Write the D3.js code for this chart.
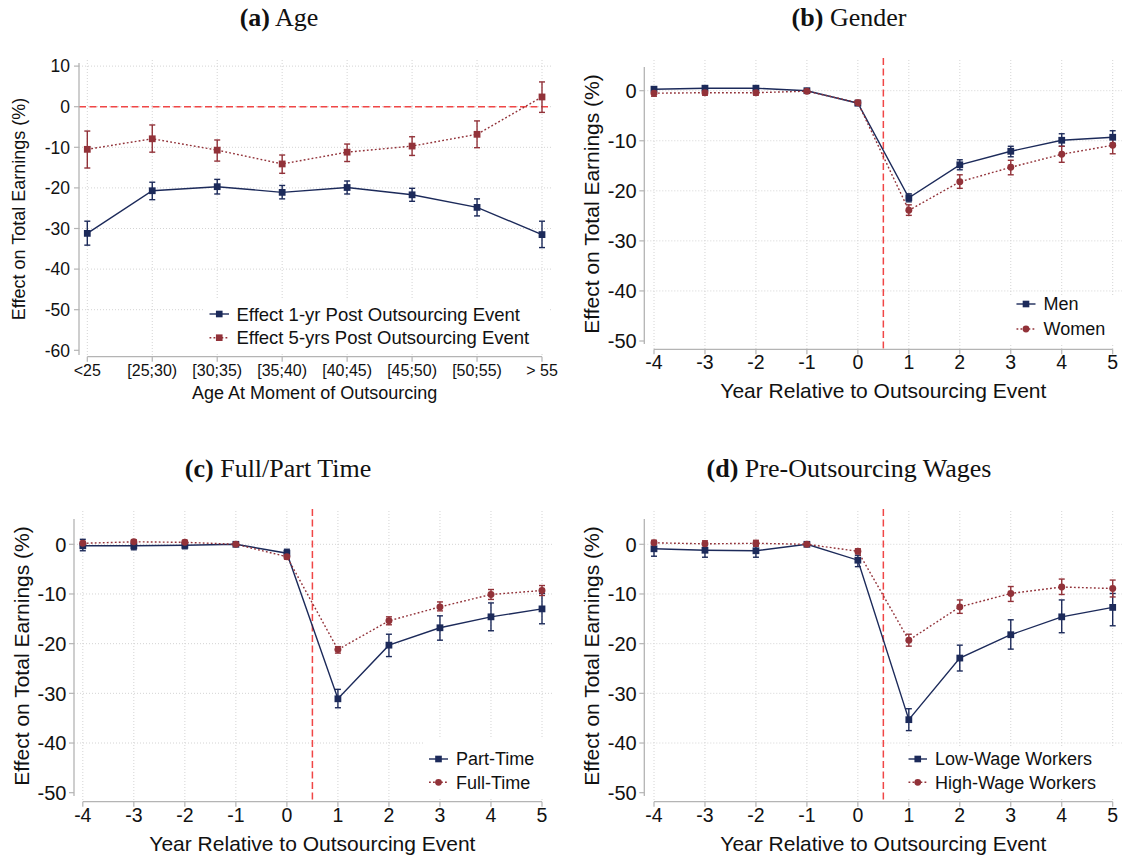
<!DOCTYPE html>
<html>
<head>
<meta charset="utf-8">
<script src="https://cdn.jsdelivr.net/npm/d3@7"></script>
<style>
  body { margin: 0; background: #fff; }
  svg { display: block; }
  text { font-family: "Liberation Sans", Arial, sans-serif; fill: #111; }
  .ttl { font-family: "Liberation Serif", "DejaVu Serif", serif; }
</style>
</head>
<body>
<svg id="chart" width="1124" height="859"></svg>
<script>
// ---- data ----
const ageGroups = ['<25', '[25;30)', '[30;35)', '[35;40)', '[40;45)', '[45;50)', '[50;55)', '> 55']
const oneYr   = [-31.2, -20.7, -19.7, -21.1, -19.9, -21.7, -24.8, -31.5]
const oneYrLo = [-34.1, -22.9, -21.5, -22.7, -21.5, -23.3, -26.9, -34.7]
const oneYrHi = [-28.2, -18.6, -17.9, -19.4, -18.3, -20.1, -22.7, -28.2]
const fiveYr   = [-10.5, -7.9, -10.7, -14.1, -11.2, -9.7, -6.8, 2.4]
const fiveYrLo = [-15.1, -11.2, -13.4, -16.4, -13.5, -12.0, -10.1, -1.4]
const fiveYrHi = [-6.0, -4.5, -8.2, -11.9, -9.2, -7.4, -3.5, 6.1]

const years = [-4, -3, -2, -1, 0, 1, 2, 3, 4, 5]

const men   = [0.3, 0.5, 0.5, 0, -2.5, -21.4, -14.8, -12.1, -9.9, -9.3]
const menLo = [-0.1, 0.1, 0.1, 0, -2.9, -22.2, -15.8, -13.2, -11.1, -10.5]
const menHi = [0.7, 0.9, 0.9, 0, -2.1, -20.6, -13.8, -11.1, -8.6, -8.0]
const women   = [-0.5, -0.4, -0.4, -0.1, -2.4, -23.9, -18.2, -15.3, -12.7, -10.9]
const womenLo = [-1.1, -0.9, -0.9, -0.3, -2.9, -24.9, -19.5, -16.8, -14.3, -12.6]
const womenHi = [0.1, 0.1, 0.1, 0.1, -1.9, -22.8, -16.8, -13.9, -11.1, -9.6]

const partTime   = [-0.3, -0.3, -0.2, 0, -1.8, -31.1, -20.3, -16.8, -14.6, -13.0]
const partTimeLo = [-1.3, -1.1, -0.9, 0, -2.8, -32.9, -22.6, -19.3, -17.4, -16.0]
const partTimeHi = [1.0, 0.7, 0.5, 0, -1.0, -29.2, -18.1, -14.4, -11.8, -9.9]
const fullTime   = [0.2, 0.5, 0.4, 0, -2.5, -21.2, -15.4, -12.6, -10.1, -9.3]
const fullTimeLo = [-0.2, 0.1, 0.0, 0, -3.0, -21.9, -16.2, -13.4, -11.1, -10.3]
const fullTimeHi = [0.6, 0.9, 0.8, 0, -2.0, -20.6, -14.6, -11.6, -9.1, -8.3]

const lowWage   = [-0.9, -1.2, -1.3, 0, -3.2, -35.3, -22.9, -18.2, -14.6, -12.7]
const lowWageLo = [-2.4, -2.6, -2.6, 0, -4.5, -37.5, -25.5, -21.1, -17.8, -16.4]
const lowWageHi = [0.2, -0.1, -0.2, 0, -2.2, -33.1, -20.3, -15.2, -11.2, -9.9]
const highWage   = [0.3, 0.1, 0.2, 0, -1.4, -19.3, -12.6, -9.9, -8.6, -8.9]
const highWageLo = [-0.5, -0.6, -0.4, 0, -1.9, -20.5, -13.9, -11.5, -10.1, -10.6]
const highWageHi = [0.8, 0.7, 0.8, 0, -0.9, -18.1, -11.2, -8.5, -7.0, -7.2]

const ageTicks = [10, 0, -10, -20, -30, -40, -50, -60]
const yearTicks = [0, -10, -20, -30, -40, -50]

const NAVY = '#1c2a5a'
const RED = '#923239'
const REF = '#f04646'
const GRID = '#d4d4d4'
const AXIS = '#b4b4b4'

const svg = d3.select('#chart')

function drawPanel(p) {
    const g = svg.append('g')
    const x = p.cats
        ? d3.scalePoint().domain(p.cats).range(p.xRange)
        : d3.scaleLinear().domain([-4, 5]).range(p.xRange)
    const y = d3.scaleLinear().domain([p.ticks[p.ticks.length - 1], 0]).range(p.yRange)
    const xVals = p.cats || years

    // grid
    g.selectAll('.hg').data(p.ticks.slice(0, -1)).enter().append('line')
        .attr('x1', p.axisX).attr('x2', p.gridRight)
        .attr('y1', d => y(d)).attr('y2', d => y(d))
        .attr('stroke', GRID).attr('stroke-width', 1).attr('stroke-dasharray', '1,2')
    g.selectAll('.vg').data(xVals).enter().append('line')
        .attr('x1', d => x(d)).attr('x2', d => x(d))
        .attr('y1', p.top).attr('y2', p.axisY)
        .attr('stroke', GRID).attr('stroke-width', 1).attr('stroke-dasharray', '1,2')

    // reference line
    if (p.cats) {
        g.append('line')
            .attr('x1', p.axisX).attr('x2', p.gridRight)
            .attr('y1', y(0)).attr('y2', y(0))
            .attr('stroke', REF).attr('stroke-width', 1.5).attr('stroke-dasharray', '7,3.5')
    } else {
        g.append('line')
            .attr('x1', x(0.5)).attr('x2', x(0.5))
            .attr('y1', p.top - 2).attr('y2', p.axisY)
            .attr('stroke', REF).attr('stroke-width', 1.5).attr('stroke-dasharray', '7,3.5')
    }

    // legend box hides grid behind it
    g.append('rect')
        .attr('x', p.legBox[0]).attr('y', p.legBox[1])
        .attr('width', p.legBox[2]).attr('height', p.legBox[3])
        .attr('fill', '#fff')

    // y axis
    g.append('line')
        .attr('x1', p.axisX).attr('x2', p.axisX)
        .attr('y1', p.axisTop).attr('y2', p.axisBottom)
        .attr('stroke', AXIS).attr('stroke-width', 1.3)
    g.selectAll('.yt').data(p.ticks).enter().append('line')
        .attr('x1', p.axisX - 5).attr('x2', p.axisX)
        .attr('y1', d => y(d)).attr('y2', d => y(d))
        .attr('stroke', AXIS).attr('stroke-width', 1.2)
    g.selectAll('.yl').data(p.ticks).enter().append('text')
        .attr('x', p.axisX - p.yLabGap).attr('y', d => y(d))
        .attr('dy', '0.36em')
        .attr('text-anchor', 'end')
        .attr('font-size', p.yTickSize)
        .text(d => d)

    // x axis
    g.append('line')
        .attr('x1', p.xRange[0]).attr('x2', p.xRange[1])
        .attr('y1', p.axisY).attr('y2', p.axisY)
        .attr('stroke', AXIS).attr('stroke-width', 1.3)
    g.selectAll('.xt').data(xVals).enter().append('line')
        .attr('x1', d => x(d)).attr('x2', d => x(d))
        .attr('y1', p.axisY).attr('y2', p.axisY + 5)
        .attr('stroke', AXIS).attr('stroke-width', 1.2)
    g.selectAll('.xl').data(xVals).enter().append('text')
        .attr('x', d => x(d)).attr('y', p.xLabY)
        .attr('text-anchor', 'middle')
        .attr('font-size', p.xTickSize)
        .text(d => d)

    // axis titles
    g.append('text')
        .attr('x', (p.xRange[0] + p.xRange[1]) / 2).attr('y', p.xTitleY)
        .attr('text-anchor', 'middle').attr('font-size', p.titleSize)
        .text(p.xTitle)
    g.append('text')
        .attr('transform', `translate(${p.yTitleX},${p.yTitleY}) rotate(-90)`)
        .attr('text-anchor', 'middle').attr('font-size', p.titleSize)
        .text('Effect on Total Earnings (%)')

    // panel title
    const t = g.append('text').attr('class', 'ttl')
        .attr('x', p.headX).attr('y', p.headY)
        .attr('text-anchor', 'middle').attr('font-size', 26)
    t.append('tspan').attr('font-weight', 'bold').text(p.letter)
    t.append('tspan').text(' ' + p.head)

    // error bars
    p.series.forEach(s => {
        const cap = 3
        const eb = g.append('g').attr('stroke', s.color).attr('stroke-width', 1.4)
        xVals.forEach((v, i) => {
            const cx = x(v)
            eb.append('line').attr('x1', cx).attr('x2', cx).attr('y1', y(s.lo[i])).attr('y2', y(s.hi[i]))
            eb.append('line').attr('x1', cx - cap).attr('x2', cx + cap).attr('y1', y(s.lo[i])).attr('y2', y(s.lo[i]))
            eb.append('line').attr('x1', cx - cap).attr('x2', cx + cap).attr('y1', y(s.hi[i])).attr('y2', y(s.hi[i]))
        })
    })

    // lines and markers
    p.series.forEach(s => {
        const line = d3.line().x((d, i) => x(xVals[i])).y(d => y(d))
        g.append('path')
            .datum(s.vals)
            .attr('fill', 'none')
            .attr('stroke', s.color).attr('stroke-width', 1.4)
            .attr('stroke-dasharray', s.dotted ? '1.8,2.2' : null)
            .attr('d', line)
        const sym = s.shape === 'square'
            ? d3.symbol(d3.symbolSquare, 46)
            : d3.symbol(d3.symbolCircle, 38)
        g.selectAll(null).data(s.vals).enter().append('path')
            .attr('transform', (d, i) => `translate(${x(xVals[i])},${y(d)})`)
            .attr('d', sym)
            .attr('fill', s.color)
    })

    // legend
    p.series.forEach((s, i) => {
        const ly = p.legY[i]
        g.append('line')
            .attr('x1', p.legX[0]).attr('x2', p.legX[1])
            .attr('y1', ly).attr('y2', ly)
            .attr('stroke', s.color).attr('stroke-width', 1.4)
            .attr('stroke-dasharray', s.dotted ? '1.8,2.2' : null)
        const sym = s.shape === 'square'
            ? d3.symbol(d3.symbolSquare, 44)
            : d3.symbol(d3.symbolCircle, 36)
        g.append('path')
            .attr('transform', `translate(${(p.legX[0] + p.legX[1]) / 2},${ly})`)
            .attr('d', sym).attr('fill', s.color)
        g.append('text')
            .attr('x', p.legX[2]).attr('y', ly).attr('dy', '0.36em')
            .attr('font-size', p.legSize)
            .text(s.name)
    })
}

// (a) Age
drawPanel({
    letter: '(a)', head: 'Age', headX: 279, headY: 26,
    cats: ageGroups, xRange: [87.3, 542], yRange: [350.3, 106.7], ticks: ageTicks,
    axisX: 79, axisTop: 63, axisBottom: 355, axisY: 356.7, top: 60, gridRight: 551,
    yLabGap: 9, yTickSize: 17.5, xTickSize: 16, xLabY: 376, titleSize: 18,
    xTitle: 'Age At Moment of Outsourcing', xTitleY: 399, yTitleX: 25, yTitleY: 209,
    legBox: [203, 298, 346, 54], legX: [209.5, 229, 236.5], legY: [314, 337.7], legSize: 18.5,
    series: [
        { name: 'Effect 1-yr Post Outsourcing Event', vals: oneYr, lo: oneYrLo, hi: oneYrHi, color: NAVY, shape: 'square', dotted: false },
        { name: 'Effect 5-yrs Post Outsourcing Event', vals: fiveYr, lo: fiveYrLo, hi: fiveYrHi, color: RED, shape: 'square', dotted: true }
    ]
})

// (b) Gender
drawPanel({
    letter: '(b)', head: 'Gender', headX: 849, headY: 26,
    xRange: [654, 1112.7], yRange: [341, 90.7], ticks: yearTicks,
    axisX: 644.3, axisTop: 67, axisBottom: 344, axisY: 349.3, top: 60, gridRight: 1122,
    yLabGap: 7.6, yTickSize: 20, xTickSize: 19.5, xLabY: 369, titleSize: 21,
    xTitle: 'Year Relative to Outsourcing Event', xTitleY: 398, yTitleX: 599, yTitleY: 204,
    legBox: [1005, 295, 119, 50], legX: [1016.5, 1035.5, 1043.5], legY: [304, 329], legSize: 18,
    series: [
        { name: 'Men', vals: men, lo: menLo, hi: menHi, color: NAVY, shape: 'square', dotted: false },
        { name: 'Women', vals: women, lo: womenLo, hi: womenHi, color: RED, shape: 'circle', dotted: true }
    ]
})

// (c) Full/Part Time
drawPanel({
    letter: '(c)', head: 'Full/Part Time', headX: 278, headY: 477,
    xRange: [82.8, 542], yRange: [792.7, 544.3], ticks: yearTicks,
    axisX: 74, axisTop: 519, axisBottom: 796, axisY: 801.7, top: 511, gridRight: 552,
    yLabGap: 7.6, yTickSize: 20, xTickSize: 19.5, xLabY: 821.5, titleSize: 21,
    xTitle: 'Year Relative to Outsourcing Event', xTitleY: 851, yTitleX: 28.5, yTitleY: 656,
    legBox: [423, 738, 129, 59], legX: [429, 448, 456], legY: [759, 782.3], legSize: 18,
    series: [
        { name: 'Part-Time', vals: partTime, lo: partTimeLo, hi: partTimeHi, color: NAVY, shape: 'square', dotted: false },
        { name: 'Full-Time', vals: fullTime, lo: fullTimeLo, hi: fullTimeHi, color: RED, shape: 'circle', dotted: true }
    ]
})

// (d) Pre-Outsourcing Wages
drawPanel({
    letter: '(d)', head: 'Pre-Outsourcing Wages', headX: 849, headY: 477,
    xRange: [654, 1112.7], yRange: [792.7, 544.3], ticks: yearTicks,
    axisX: 644.3, axisTop: 519, axisBottom: 796, axisY: 801.7, top: 511, gridRight: 1122,
    yLabGap: 7.6, yTickSize: 20, xTickSize: 19.5, xLabY: 821.5, titleSize: 21,
    xTitle: 'Year Relative to Outsourcing Event', xTitleY: 851, yTitleX: 599, yTitleY: 656,
    legBox: [900, 746, 224, 51], legX: [908.5, 927, 935], legY: [759, 782.3], legSize: 18,
    series: [
        { name: 'Low-Wage Workers', vals: lowWage, lo: lowWageLo, hi: lowWageHi, color: NAVY, shape: 'square', dotted: false },
        { name: 'High-Wage Workers', vals: highWage, lo: highWageLo, hi: highWageHi, color: RED, shape: 'circle', dotted: true }
    ]
})
</script>
</body>
</html>
